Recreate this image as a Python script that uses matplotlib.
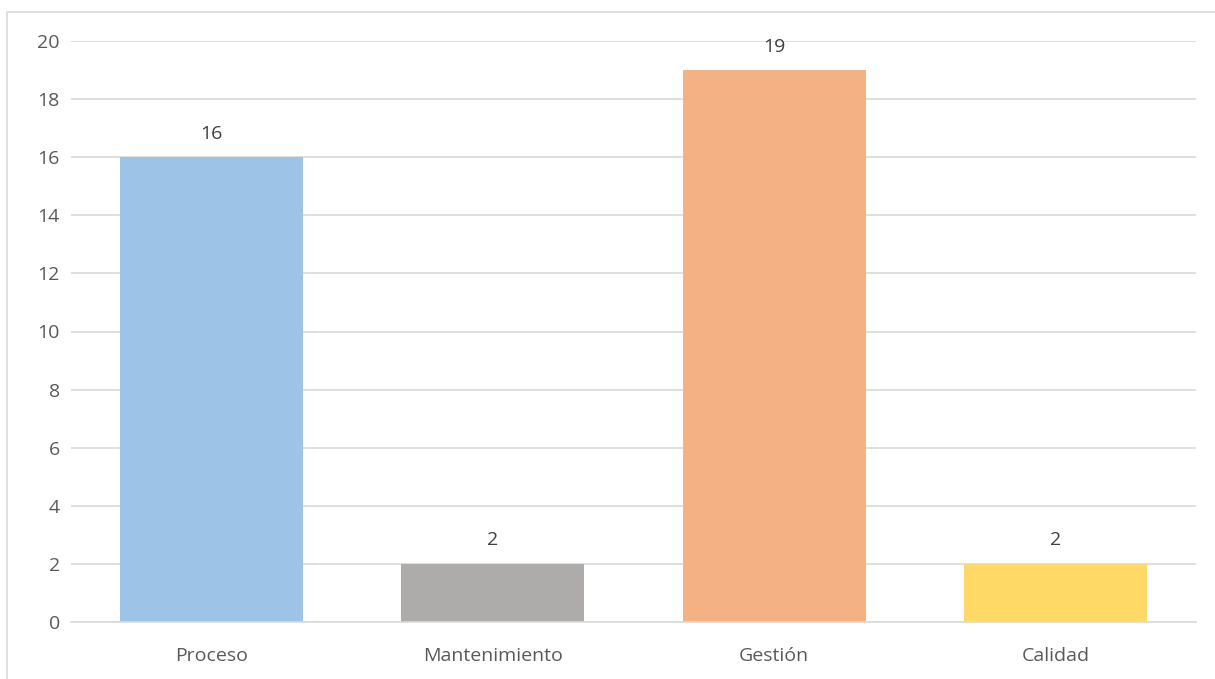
import matplotlib

matplotlib.use("Agg")
import matplotlib.pyplot as plt
from matplotlib.patches import Rectangle

categories = ["Proceso", "Mantenimiento", "Gestión", "Calidad"]
values = [16, 2, 19, 2]
colors = ["#9DC3E6", "#AEABAB", "#F4B183", "#FFD966"]
yticks = [0, 2, 4, 6, 8, 10, 12, 14, 16, 18, 20]

W, H = 1215, 679
plt.rcParams["font.family"] = ["Open Sans", "DejaVu Sans"]

fig = plt.figure(figsize=(W / 100, H / 100), dpi=100)
# plot area in pixels: x 71..1196, y 41 (20) .. 622 (0)
ax = fig.add_axes([71 / W, 1 - 622 / H, (1196 - 71) / W, (622 - 41) / H])

x = range(len(categories))
ax.bar(x, values, width=0.65, color=colors, zorder=2)
for xi, v in zip(x, values):
    ax.text(xi, v + 0.5, str(v), ha="center", va="bottom", fontsize=14, color="#404040")

ax.set_xlim(-0.5, len(categories) - 0.5)
ax.set_ylim(0, 20)
ax.set_yticks(yticks)
ax.set_xticks(list(x))
ax.set_xticklabels(categories)
ax.tick_params(axis="both", length=0, labelsize=14, labelcolor="#595959")
ax.tick_params(axis="x", pad=18)
ax.tick_params(axis="y", pad=8)
ax.grid(axis="y", color="#D9D9D9", linewidth=1.2, zorder=0)
for side in ["top", "right", "left"]:
    ax.spines[side].set_visible(False)
ax.spines["bottom"].set_color("#D9D9D9")
ax.spines["bottom"].set_linewidth(1.2)
ax.spines["bottom"].set_zorder(3)

# chart frame, cut off at right and bottom
fig.patches.append(Rectangle((7 / W, -0.1), 1.2, 1 - 12 / H + 0.1, transform=fig.transFigure,
                             fill=False, edgecolor="#D9D9D9", linewidth=1.2))

fig.savefig("out.png", dpi=100)
